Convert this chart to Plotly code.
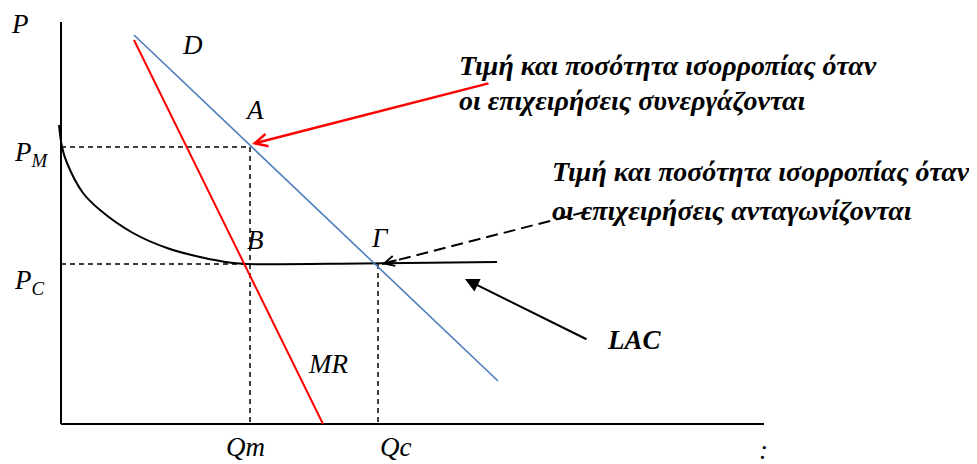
import plotly.graph_objects as go

# ---- data (economic units; Q on x, P on y) ----
q_axis_end = 70.3
p_axis_top = 40.2

demand_q = [7.3, 43.7]
demand_p = [38.9, 4.3]

mr_q = [7.3, 26.2]
mr_p = [38.4, 0.0]

lac_q = [-0.2, 0.1, 0.6, 2.2, 3.9, 7.2, 10.6, 13.9, 17.2, 18.6, 30.0, 43.6]
lac_p = [29.9, 27.7, 26.1, 23.1, 21.4, 19.1, 17.6, 16.7, 16.1, 16.0, 16.05, 16.2]

Qm, Qc = 18.9, 31.7
PM, PC = 27.7, 16.0

coop_arrow_tail = (42.9, 34.1)
comp_arrow_tail = (52.4, 21.2)
lac_arrow_tail = (52.7, 8.4)
lac_arrow_head = (40.4, 14.5)

text_coop = ["Τιμή και ποσότητα ισορροπίας όταν", "οι επιχειρήσεις συνεργάζονται"]
text_comp = ["Τιμή και ποσότητα ισορροπίας όταν", "οι επιχειρήσεις ανταγωνίζονται"]

SERIF = "Liberation Serif, Times New Roman, serif"

fig = go.Figure()

def line(x, y, color="black", width=2, dash=None, shape="linear"):
    fig.add_trace(go.Scatter(x=x, y=y, mode="lines",
                             line=dict(color=color, width=width, dash=dash, shape=shape),
                             hoverinfo="skip", showlegend=False))

# axes
line([0, 0], [p_axis_top, 0], width=2)
line([0, q_axis_end], [0, 0], width=2)

# dashed guides
dash = "5px,4px"
line([0, Qm], [PM, PM], width=1.5, dash=dash)
line([Qm, Qm], [PM, 0], width=1.5, dash=dash)
line([0, Qm], [PC, PC], width=1.5, dash=dash)
line([Qc, Qc], [PC, 0], width=1.5, dash=dash)

# LAC
line(lac_q, lac_p, width=2, shape="spline")

# demand & MR
line(demand_q, demand_p, color="#4a7ebb", width=1.6)
line(mr_q, mr_p, color="#ff0000", width=2)

# dashed arrow line (competition)
line([comp_arrow_tail[0], Qc + 0.4], [comp_arrow_tail[1], PC], width=2, dash="12px,6px")

annotations = []

# red arrow to A
annotations.append(dict(x=Qm + 0.2, y=PM + 0.3, ax=coop_arrow_tail[0], ay=coop_arrow_tail[1],
                        xref="x", yref="y", axref="x", ayref="y", text="", showarrow=True,
                        arrowhead=5, arrowsize=1, arrowwidth=2.5, arrowcolor="#ff0000"))
# dashed-arrow head at Γ
annotations.append(dict(x=Qc + 0.4, y=PC, ax=Qc + 2.0, ay=PC + 0.41,
                        xref="x", yref="y", axref="x", ayref="y", text="", showarrow=True,
                        arrowhead=5, arrowsize=1, arrowwidth=2, arrowcolor="black"))
# LAC arrow
annotations.append(dict(x=lac_arrow_head[0], y=lac_arrow_head[1],
                        ax=lac_arrow_tail[0], ay=lac_arrow_tail[1],
                        xref="x", yref="y", axref="x", ayref="y", text="", showarrow=True,
                        arrowhead=2, arrowsize=1.4, arrowwidth=2, arrowcolor="black"))

def label(x, y, text, size=27, xanchor="center", yanchor="middle"):
    annotations.append(dict(x=x, y=y, xref="x", yref="y", text=text, showarrow=False,
                            xanchor=xanchor, yanchor=yanchor,
                            font=dict(family=SERIF, size=size, color="black")))

label(-4.1, 40.0, "<i>P</i>")
label(13.1, 37.9, "<i>D</i>")
label(19.3, 31.4, "<i>A</i>")
label(-4.9, 27.0, "<i>P<sub>M</sub></i>", xanchor="left")
label(-4.9, 14.2, "<i>P<sub>C</sub></i>", xanchor="left")
label(19.4, 18.4, "<i>B</i>")
label(31.9, 18.6, "<i>Γ</i>")
label(26.7, 6.0, "<i>MR</i>")
label(18.4, -2.3, "<i>Qm</i>")
label(33.4, -2.3, "<i>Qc</i>")
label(70.2, -2.6, "<i>:</i>")
label(57.3, 8.4, "<b><i>LAC</i></b>")

label(39.6, 35.9, "<b><i>%s</i></b>" % text_coop[0], size=28, xanchor="left")
label(39.6, 32.4, "<b><i>%s</i></b>" % text_coop[1], size=28, xanchor="left")
label(48.9, 25.3, "<b><i>%s</i></b>" % text_comp[0], size=28, xanchor="left")
label(48.9, 21.4, "<b><i>%s</i></b>" % text_comp[1], size=28, xanchor="left")

# page body has an 8px margin: size the figure and ranges so that
# Q=0 / P=0 lands at window pixel (61, 424)
fig.update_layout(
    width=969, height=456,
    margin=dict(l=0, r=0, t=0, b=0),
    paper_bgcolor="white", plot_bgcolor="white",
    xaxis=dict(range=[-5.3, 91.6], visible=False, fixedrange=True),
    yaxis=dict(range=[-4.0, 41.6], visible=False, fixedrange=True),
    annotations=annotations,
    showlegend=False,
)

fig.write_html("out.html")
